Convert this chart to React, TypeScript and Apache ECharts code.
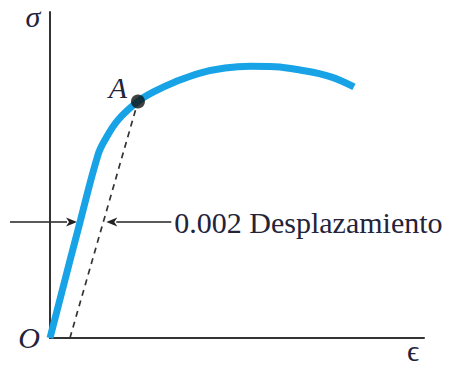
import React, { useEffect, useRef } from "react";
import * as echarts from "echarts";

// Stress–strain curve (σ vs ϵ) with the 0.002 offset construction.
const strain = [0, 0.00301, 0.00481, 0.00551, 0.00682, 0.00882, 0.01053, 0.01253, 0.01504, 0.01755, 0.02005, 0.02256, 0.02507, 0.02808, 0.03048];
const stress = [0, 124.5, 196.5, 212.6, 234.1, 253.9, 265.0, 274.9, 284.5, 289.9, 291.8, 291.3, 287.7, 280.6, 269.5];

const offsetStrain = 0.002;
const yieldIndex = 5; // point A
const annotationStress = 124.5; // level of the offset arrows

const axisMax = { strain: 0.0375, stress: 350 };
const labels = { stress: "σ", strain: "ϵ", origin: "O", yieldPoint: "A", offset: "0.002 Desplazamiento" };

const SERIF = "Liberation Serif";
const INK = "#23233a";
const BLUE = "#17a3e6";

export default function App() {
  const ref = useRef<HTMLDivElement>(null);

  useEffect(() => {
    if (!ref.current) return;
    const chart = echarts.init(ref.current, null, { renderer: "svg" });
    const curve = strain.map((x, i) => [x, stress[i]]);
    const yieldPt = curve[yieldIndex];

    chart.setOption({
      animation: false,
      backgroundColor: "#ffffff",
      grid: { left: 50, right: 29, top: 12, bottom: 27 },
      xAxis: {
        type: "value",
        min: 0,
        max: axisMax.strain,
        axisLine: { show: true, lineStyle: { color: "#333", width: 2 } },
        axisTick: { show: false },
        axisLabel: { show: false },
        splitLine: { show: false },
      },
      yAxis: {
        type: "value",
        min: 0,
        max: axisMax.stress,
        axisLine: { show: true, lineStyle: { color: "#333", width: 2 } },
        axisTick: { show: false },
        axisLabel: { show: false },
        splitLine: { show: false },
      },
      series: [
        {
          type: "line",
          data: [[offsetStrain, 0], yieldPt],
          showSymbol: false,
          lineStyle: { color: "#333", width: 1.7, type: [6, 5] },
          z: 2,
        },
        {
          type: "line",
          data: curve,
          smooth: 0.4,
          showSymbol: false,
          clip: false,
          lineStyle: { color: BLUE, width: 7 },
          z: 3,
        },
        {
          type: "scatter",
          data: [yieldPt],
          symbolSize: 14,
          itemStyle: { color: "#111" },
          z: 4,
        },
      ],
    });

    const px = (x: number, y: number) => chart.convertToPixel({ gridIndex: 0 }, [x, y]) as number[];

    // Where the elastic line and the offset line cross the arrow level
    const elasticX = strain[1] * (annotationStress / stress[1]);
    const offsetX = offsetStrain + (yieldPt[0] - offsetStrain) * (annotationStress / yieldPt[1]);
    const pElastic = px(elasticX, annotationStress);
    const pOffset = px(offsetX, annotationStress);
    const origin = px(0, 0);
    const top = px(0, axisMax.stress);
    const xEnd = px(axisMax.strain, 0);
    const pA = px(yieldPt[0], yieldPt[1]);

    const yA = pElastic[1];
    const leftTip = pElastic[0] - 3;
    const rightTip = pOffset[0] + 3;
    const leftStart = origin[0] - 40;
    const rightEnd = rightTip + 65;
    const headLen = 11;
    const headHalf = 4.5;
    const lineStyle = { stroke: "#222", lineWidth: 1.6 };

    const txt = (text: string, x: number, y: number, size: number, italic: boolean, align = "center", lineHeight?: number) => ({
      type: "text",
      x,
      y,
      style: {
        text,
        fontFamily: SERIF,
        fontSize: size,
        fontStyle: italic ? "italic" : "normal",
        lineHeight: lineHeight ?? size,
        fill: INK,
        textAlign: align,
        textVerticalAlign: "middle",
      },
    });

    chart.setOption({
      graphic: [
        { type: "line", shape: { x1: leftStart, y1: yA, x2: leftTip - headLen + 1, y2: yA }, style: lineStyle },
        {
          type: "polygon",
          shape: { points: [[leftTip, yA], [leftTip - headLen, yA - headHalf], [leftTip - headLen + 3, yA], [leftTip - headLen, yA + headHalf]] },
          style: { fill: "#222" },
        },
        { type: "line", shape: { x1: rightTip + headLen - 1, y1: yA, x2: rightEnd, y2: yA }, style: lineStyle },
        {
          type: "polygon",
          shape: { points: [[rightTip, yA], [rightTip + headLen, yA - headHalf], [rightTip + headLen - 3, yA], [rightTip + headLen, yA + headHalf]] },
          style: { fill: "#222" },
        },
        txt(labels.offset, rightEnd + 3, yA, 30, false, "left"),
        txt(labels.stress, top[0] - 17, top[1] + 4, 30, true, "center", 24),
        txt(labels.origin, origin[0] - 21, origin[1] - 1, 30, true),
        txt(labels.strain, xEnd[0] - 11, xEnd[1] + 12, 30, false),
        txt(labels.yieldPoint, pA[0] - 20, pA[1] - 14, 30, true),
      ],
    });

    return () => chart.dispose();
  }, []);

  return (
    <div
      ref={ref}
      style={{ position: "fixed", left: 0, top: 0, width: 453, height: 365, background: "#fff" }}
    />
  );
}
